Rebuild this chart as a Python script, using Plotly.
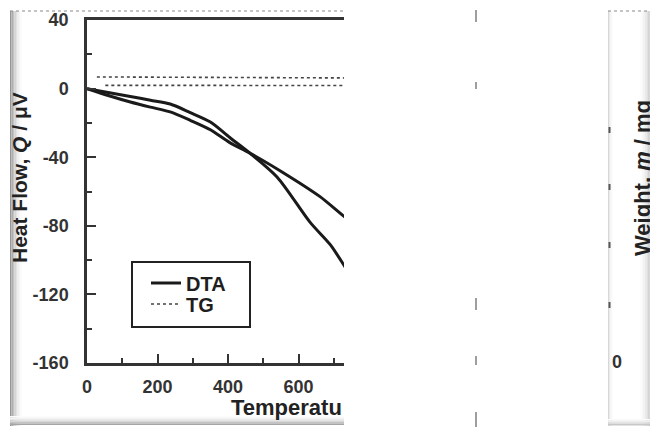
import plotly.graph_objects as go

W, H = 658, 427
OFF = 8  # page body margin in the browser

# ---- data ----
temp_dta_1 = [0, 60, 123, 180, 236, 293, 350, 405, 462, 539, 633, 690, 732, 760]
dta_1 = [0, -2.3, -4.6, -6.8, -9.0, -14.0, -19.5, -28.5, -37.6, -51.5, -78.0, -91.0, -104.0, -113.0]
temp_dta_2 = [0, 60, 123, 180, 236, 293, 350, 405, 462, 576, 661, 732, 760]
dta_2 = [0, -4.0, -7.8, -10.8, -13.6, -18.5, -24.0, -31.5, -37.6, -51.5, -63.0, -75.0, -79.0]
temp_tg_1 = [28, 200, 400, 600, 760]
tg_1 = [6.8, 6.7, 6.5, 6.3, 6.2]
temp_tg_2 = [52, 200, 400, 600, 760]
tg_2 = [1.9, 1.9, 1.8, 1.8, 1.8]

x_ticks = [0, 200, 400, 600]
x_tick_labels = ["0", "200", "400", "600"]
y_ticks = [40, 0, -40, -80, -120, -160]
y_tick_labels = ["40", "0", "-40", "-80", "-120", "-160"]


def px(x):
    return (x - OFF) / W


def py(y):
    return 1 - (y - OFF) / H


INK = "#1a1a1a"
AX = "#333333"
FONT = "Liberation Sans, Arial, sans-serif"

fig = go.Figure()
fig.add_trace(go.Scatter(x=temp_dta_1, y=dta_1, mode="lines", name="DTA",
                         line=dict(color=INK, width=3, shape="spline", smoothing=0.8),
                         legend="legend"))
fig.add_trace(go.Scatter(x=temp_dta_2, y=dta_2, mode="lines", name="DTA",
                         line=dict(color=INK, width=3, shape="spline", smoothing=0.8),
                         legend="legend", showlegend=False))
fig.add_trace(go.Scatter(x=temp_tg_1, y=tg_1, mode="lines", name="TG",
                         line=dict(color="#444444", width=1.6, dash="dot"), legend="legend2"))
fig.add_trace(go.Scatter(x=temp_tg_2, y=tg_2, mode="lines", name="TG",
                         line=dict(color="#444444", width=1.6, dash="dot"), legend="legend2",
                         showlegend=False))

shapes = []


def rect(x0, y0, x1, y1, color, line=None):
    shapes.append(dict(type="rect", xref="paper", yref="paper", x0=px(x0), x1=px(x1),
                       y0=py(y1), y1=py(y0), fillcolor=color,
                       line=line or dict(width=0), layer="below"))


def seg(x0, y0, x1, y1, color, width=1.5, dash="solid"):
    shapes.append(dict(type="line", xref="paper", yref="paper", x0=px(x0), x1=px(x1),
                       y0=py(y0), y1=py(y1), line=dict(color=color, width=width, dash=dash),
                       layer="below"))


def grey(v):
    return f"rgb({v},{v},{v})"


# left panel scan shading
for i, v in enumerate([150, 175, 195, 212, 226, 238, 246, 251]):
    rect(10 + i * 1.5, 11, 11.5 + i * 1.5, 426, grey(v))
for i, v in enumerate([252, 244, 232, 215, 195, 165]):
    rect(10, 416 + i * 1.5, 344, 417.5 + i * 1.5, grey(v))
seg(10, 11, 344, 11, "#8a8a8a", 1.2, "dot")

# right panel scan shading
for i, v in enumerate([215, 232, 244, 251]):
    rect(608 + i * 1.2, 11, 609.2 + i * 1.2, 426, grey(v))
for i, v in enumerate([253, 248, 242, 234, 224, 212, 198, 180, 160, 140, 125]):
    rect(640 + i * 1.6, 11, 641.6 + i * 1.6, 426, grey(v))
for i, v in enumerate([250, 238, 222, 200]):
    rect(608, 419 + i * 1.6, 658, 420.6 + i * 1.6, grey(v))
seg(608, 11, 658, 11, "#8a8a8a", 1.2, "dot")

# stray vertical fragments in the middle strip
for y0, y1 in [(10, 22), (82, 89), (298, 310), (356, 365), (412, 427)]:
    seg(476, y0, 476, y1, "#6a6a6a", 1.3)
# clipped right-axis label fragments
for yy in [130, 187, 245, 305]:
    seg(609.5, yy - 3, 609.5, yy + 3, "#555555", 2)

# legend frame
rect(132, 262, 250, 327, "white", dict(color="#222222", width=2))

leg_common = dict(xanchor="left", yanchor="middle", bgcolor="rgba(0,0,0,0)",
                  borderwidth=0, itemwidth=30,
                  font=dict(family=FONT, size=20, color="#1e1e1e", weight="bold"))

fig.update_layout(
    width=W, height=H,
    margin=dict(l=0, r=0, t=0, b=0, autoexpand=False),
    paper_bgcolor="white",
    plot_bgcolor="rgba(0,0,0,0)",
    font=dict(family=FONT, color="#2e2e2e"),
    shapes=shapes,
    showlegend=True,
    legend=dict(x=px(146), y=py(283), **leg_common),
    legend2=dict(x=px(146), y=py(304), **leg_common),
    xaxis=dict(domain=[px(87), px(344)], range=[0, 729], tickvals=x_ticks,
               ticktext=x_tick_labels, automargin=False,
               ticks="inside", ticklen=9, tickwidth=2, tickcolor=AX,
               showline=True, linecolor=AX, linewidth=2.5, mirror=True,
               showgrid=False, zeroline=False, ticklabelstandoff=6,
               tickfont=dict(family=FONT, size=18, color="#333333", weight="bold"),
               minor=dict(dtick=100, tick0=0, ticks="inside", ticklen=5, tickwidth=2,
                          tickcolor=AX, showgrid=False)),
    yaxis=dict(domain=[py(363), py(20)], range=[-160, 40], tickvals=y_ticks,
               ticktext=y_tick_labels, automargin=False,
               ticks="inside", ticklen=9, tickwidth=2, tickcolor=AX,
               showline=True, linecolor=AX, linewidth=2.5,
               showgrid=False, zeroline=False, ticklabelstandoff=12,
               tickfont=dict(family=FONT, size=18, color="#333333", weight="bold"),
               minor=dict(dtick=20, tick0=0, ticks="inside", ticklen=5, tickwidth=2,
                          tickcolor=AX, showgrid=False)),
    annotations=[
        dict(xref="paper", yref="paper", x=px(344), y=py(407), xanchor="right",
             yanchor="middle", text="Temperatu", showarrow=False,
             font=dict(family=FONT, size=22, color="#222222", weight="bold")),
        dict(xref="paper", yref="paper", x=px(19), y=py(178), xanchor="center",
             yanchor="middle", text="Heat Flow, <i>Q</i> / μV", textangle=-90,
             showarrow=False,
             font=dict(family=FONT, size=21, color="#222222", weight="bold")),
        dict(xref="paper", yref="paper", x=px(642), y=py(178), xanchor="center",
             yanchor="middle", text="Weight, <i>m</i> / mg", textangle=-90,
             showarrow=False,
             font=dict(family=FONT, size=22, color="#222222", weight="bold")),
        dict(xref="paper", yref="paper", x=px(617), y=py(362), xanchor="center",
             yanchor="middle", text="0", showarrow=False,
             font=dict(family=FONT, size=18, color="#333333", weight="bold")),
    ],
)

fig.write_html("out.html")
